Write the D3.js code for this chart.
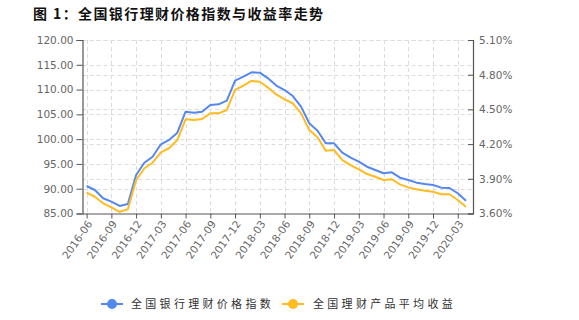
<!DOCTYPE html>
<html>
<head>
<meta charset="utf-8">
<script src="https://cdn.jsdelivr.net/npm/d3@7"></script>
<style>
  html, body { margin: 0; padding: 0; background: #fff; }
  svg { display: block; }
</style>
</head>
<body>
<svg id="chart" width="579" height="320"></svg>
<script>
// ---- data ----
const months = [
  "2016-06","2016-07","2016-08","2016-09","2016-10","2016-11","2016-12",
  "2017-01","2017-02","2017-03","2017-04","2017-05","2017-06","2017-07","2017-08","2017-09","2017-10","2017-11","2017-12",
  "2018-01","2018-02","2018-03","2018-04","2018-05","2018-06","2018-07","2018-08","2018-09","2018-10","2018-11","2018-12",
  "2019-01","2019-02","2019-03","2019-04","2019-05","2019-06","2019-07","2019-08","2019-09","2019-10","2019-11","2019-12",
  "2020-01","2020-02","2020-03","2020-04"
];
const priceIndex = [
  90.55, 89.74, 88.07, 87.39, 86.52, 86.92, 92.77,
  95.25, 96.46, 98.96, 99.83, 101.30, 105.54, 105.34, 105.54, 106.89, 107.03, 107.76, 111.79,
  112.60, 113.49, 113.41, 112.27, 110.82, 109.91, 108.70, 106.55, 103.20, 101.70, 99.16, 99.16,
  97.27, 96.26, 95.45, 94.44, 93.78, 93.11, 93.31, 92.22, 91.76, 91.22, 90.95, 90.75,
  90.21, 90.15, 89.08, 87.59
];
const avgYield = [
  3.78, 3.745, 3.688, 3.654, 3.615, 3.636, 3.89,
  3.991, 4.039, 4.129, 4.164, 4.235, 4.414, 4.408, 4.417, 4.466, 4.466, 4.495, 4.668,
  4.705, 4.746, 4.739, 4.688, 4.629, 4.587, 4.553, 4.466, 4.322, 4.259, 4.143, 4.149,
  4.062, 4.019, 3.982, 3.941, 3.918, 3.89, 3.896, 3.852, 3.826, 3.809, 3.797, 3.788,
  3.766, 3.766, 3.717, 3.659
];
const leftTicks = [85, 90, 95, 100, 105, 110, 115, 120];
const rightTicks = [3.6, 3.9, 4.2, 4.5, 4.8, 5.1];
const xTickLabels = ["2016-06","2016-09","2016-12","2017-03","2017-06","2017-09","2017-12",
  "2018-03","2018-06","2018-09","2018-12","2019-03","2019-06","2019-09","2019-12","2020-03"];
const titleText = "图 1：全国银行理财价格指数与收益率走势";
const seriesNames = ["全国银行理财价格指数", "全国理财产品平均收益"];

// ---- layout ----
const svg = d3.select("#chart");
const L = 82.5, R = 473, T = 40, B = 213.5;
const blue = "#5588EE", orange = "#FFBB22";
const axisColor = "#555", gridColor = "#dcdcdc", labelColor = "#666";

const x = d3.scaleLinear().domain([-0.5, 46.85]).range([L, R]);
const yL = d3.scaleLinear().domain([85, 120]).range([B, T]);
const yR = d3.scaleLinear().domain([3.6, 5.1]).range([B, T]);
const xTickIdx = xTickLabels.map(m => months.indexOf(m));

// title
svg.append("text")
  .attr("x", 33).attr("y", 19)
  .attr("font-family", "'Noto Sans CJK SC', sans-serif")
  .attr("font-weight", "bold").attr("font-size", 14)
  .attr("letter-spacing", 1.4)
  .attr("fill", "#111")
  .text(titleText);

// grid
const grid = svg.append("g");
grid.selectAll(".gl").data(leftTicks.slice(1)).join("line")
  .attr("x1", L).attr("x2", R)
  .attr("y1", d => Math.round(yL(d)) + 0.5).attr("y2", d => Math.round(yL(d)) + 0.5)
  .attr("stroke", gridColor).attr("stroke-dasharray", "4,3");
grid.selectAll(".gr").data(rightTicks.slice(1)).join("line")
  .attr("x1", L).attr("x2", R)
  .attr("y1", d => Math.round(yR(d)) + 0.5).attr("y2", d => Math.round(yR(d)) + 0.5)
  .attr("stroke", gridColor).attr("stroke-dasharray", "4,3");
grid.selectAll(".gv").data(xTickIdx).join("line")
  .attr("x1", d => Math.round(x(d)) + 0.5).attr("x2", d => Math.round(x(d)) + 0.5)
  .attr("y1", T).attr("y2", B)
  .attr("stroke", gridColor).attr("stroke-dasharray", "4,3");

// axes
const fontAxis = "'DejaVu Sans', Verdana, sans-serif";
const gL = svg.append("g").attr("transform", `translate(${L},0)`)
  .call(d3.axisLeft(yL).tickValues(leftTicks).tickFormat(d3.format(".2f")).tickSize(6).tickPadding(3));
const gR = svg.append("g").attr("transform", `translate(${R},0)`)
  .call(d3.axisRight(yR).tickValues(rightTicks).tickFormat(d => d3.format(".2f")(d) + "%").tickSize(-5).tickPadding(6));
const gX = svg.append("g").attr("transform", `translate(0,${B})`)
  .call(d3.axisBottom(x).tickValues(xTickIdx).tickFormat(i => months[i]).tickSize(5).tickSizeOuter(0));

[gL, gR, gX].forEach(g => {
  g.selectAll(".domain").attr("stroke", axisColor).attr("stroke-width", 1.2);
  g.selectAll(".tick line").attr("stroke", axisColor);
  g.selectAll(".tick text").attr("fill", labelColor).attr("font-family", fontAxis).attr("font-size", 10.5);
});
gX.selectAll(".tick text")
  .attr("text-anchor", "end")
  .attr("dy", "0.35em")
  .attr("transform", "translate(2,4) rotate(-55)")
  .attr("x", -3).attr("y", 3);

// lines
const lineL = d3.line().x((d, i) => x(i)).y(d => yL(d));
const lineR = d3.line().x((d, i) => x(i)).y(d => yR(d));
svg.append("path").datum(priceIndex).attr("d", lineL)
  .attr("fill", "none").attr("stroke", blue).attr("stroke-width", 2).attr("stroke-linejoin", "round");
svg.append("path").datum(avgYield).attr("d", lineR)
  .attr("fill", "none").attr("stroke", orange).attr("stroke-width", 2).attr("stroke-linejoin", "round");

// legend
const legend = svg.append("g");
const items = [
  {name: seriesNames[0], color: blue, x0: 101, tx: 131},
  {name: seriesNames[1], color: orange, x0: 282, tx: 313}
];
const ly = 304;
items.forEach(it => {
  legend.append("line").attr("x1", it.x0).attr("x2", it.x0 + 22)
    .attr("y1", ly).attr("y2", ly).attr("stroke", it.color).attr("stroke-width", 2);
  legend.append("circle").attr("cx", it.x0 + 11).attr("cy", ly).attr("r", 5).attr("fill", it.color);
  legend.append("text").attr("x", it.tx).attr("y", ly).attr("dy", "0.35em")
    .attr("font-family", "'Noto Sans CJK SC', sans-serif").attr("font-size", 11)
    .attr("letter-spacing", 3.3).attr("fill", "#333")
    .text(it.name);
});
</script>
</body>
</html>
